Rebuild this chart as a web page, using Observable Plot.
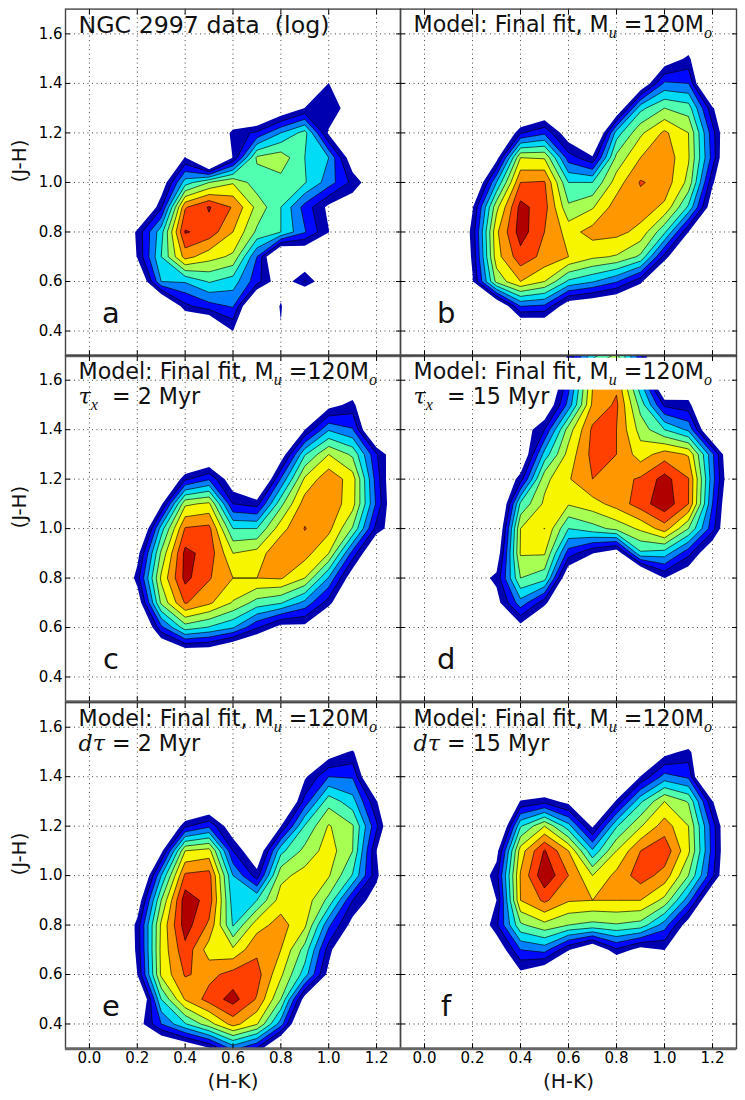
<!DOCTYPE html>
<html>
<head>
<meta charset="utf-8">
<script src="https://cdn.jsdelivr.net/npm/d3@7"></script>
<script src="https://cdn.jsdelivr.net/npm/@observablehq/plot@0.6"></script>
<style>
  html, body { margin: 0; padding: 0; background: white; }
  #chart { position: relative; width: 745px; height: 1100px; overflow: hidden; }
  #chart svg { position: absolute; overflow: visible; background: transparent; }
</style>
</head>
<body>
<div id="chart"></div>
<script>
// Grids of contour level, rows run from J-H = 1.7 down to 0.3, columns from H-K = 0.1 to 1.3
// below 0 is outside the lowest contour
const o = -3

const panelA = [
  [o, o, o, o, o, o, o, o, o, o, o, o, o],
  [o, o, o, o, o, o, o, o, o, o, o, o, o],
  [o, o, o, o, o, o, o, o, o, o, o, o, o],
  [o, o, o, o, o, o, o, o, o, .05, o, o, o],
  [o, o, o, o, o, o, o, -1.3, .05, 1, -1, o, o],
  [o, o, o, o, o, .5, 1.2, 3, 4.4, -.2, o, o, o],
  [o, o, o, .1, -4.3, .1, 5.2, 5.6, 4, 3, -1, o, o],
  [o, o, -1, 3.5, 5, 5.9, 4.4, 4.65, 4.1, 2.5, .7, -1.2, o],
  [o, o, .8, 7.9, 9.1, 7.9, 5.7, 4, 1.6, -.3, -1, o, o],
  [o, .3, 3.6, 9.1, 8.6, 7, 4.8, 4, 2.1, .05, o, o, o],
  [o, .1, 4, 7.4, 6.4, 5.8, 2, o, -1.7, o, o, o, o],
  [o, -2, 3, 3.1, 4.1, 3.5, 1.4, -1, 1.1, -1.5, o, o, o],
  [o, o, o, .7, 1.6, 2.1, o, .2, -4, .05, o, o, o],
  [o, o, o, o, o, 0, o, -.14, o, o, o, o, o],
  [o, o, o, o, o, o, o, o, o, o, o, o, o]
]
const panelB = [
  [o, o, o, o, o, o, o, o, o, o, o, o, o],
  [o, o, o, o, o, o, o, o, o, o, -1.6, o, o],
  [o, o, o, o, o, o, o, o, o, -1, .28, o, o],
  [o, o, o, o, o, o, o, o, -1.4, 2.2, 2, -4, o],
  [o, o, o, o, -1.7, o, o, -1.6, 3.7, 5, 4.5, .2, o],
  [o, o, o, .9, 1.8, -.9, o, 3.5, 5.8, 7.2, 6, 1.4, o],
  [o, o, -.5, 6, 5.9, 1.5, .2, 5.3, 7, 7.7, 6.1, 1.6, -3.7],
  [o, -2.3, 3, 8, 8.1, 4, 4, 6.5, 8.1, 7.6, 5.7, .2, o],
  [o, -.1, 5.7, 9.35, 8.4, 5.2, 5.9, 7.5, 7.5, 6.8, 3.8, -1, o],
  [o, .4, 6.8, 9.5, 8, 6.6, 7.4, 7.3, 6.7, 4.2, 0, o, o],
  [o, .2, 6.6, 8.6, 7.7, 7, 6.2, 5.9, 4.8, .6, o, o, o],
  [o, -.1, 5.3, 7, 6, 3.8, 3.1, 2.1, .3, o, o, o, o],
  [o, o, -2, 2, 1.8, -1, -1.5, -2, o, o, o, o, o],
  [o, o, o, -2.3, -2.1, o, o, o, o, o, o, o, o],
  [o, o, o, o, o, o, o, o, o, o, o, o, o]
]
const panelC = [
  [o, o, o, o, o, o, o, o, o, o, o, o, o],
  [o, o, o, o, o, o, o, o, o, o, -1.6, o, o],
  [o, o, o, o, o, o, o, o, o, -.5, .4, o, o],
  [o, o, o, o, o, o, o, o, 0, 2.9, 2.1, -2.8, o],
  [o, o, o, o, -2, o, o, -.9, 3.9, 6, 4.8, 1.1, -1.7],
  [o, o, o, .8, 1.9, -1, o, 2.1, 6.2, 7.7, 6.5, 1.5, -2.3],
  [o, o, -.3, 5.8, 6.2, 1, .6, 4.7, 7.5, 7.7, 6.4, 1.8, -2.3],
  [o, o, 3.5, 8.1, 8.3, 4, 4, 6.6, 8.05, 7.3, 4.9, .6, -1.2],
  [o, -.5, 5.2, 9.3, 8.6, 6, 6.4, 7.95, 7.4, 6, 1.6, -2.1, o],
  [o, .5, 6.2, 9.3, 8.1, 7, 7, 7.1, 6, 2.9, -1, o, o],
  [o, -1, 5.2, 8.1, 7.2, 5.9, 4.6, 4.1, 2.7, .5, o, o, o],
  [o, o, 1.7, 4.5, 3.9, 3.1, 1.1, -.5, -.4, o, o, o, o],
  [o, o, -2.2, -.9, -1, -2.3, o, o, o, o, o, o, o],
  [o, o, o, o, o, o, o, o, o, o, o, o, o],
  [o, o, o, o, o, o, o, o, o, o, o, o, o]
]
const panelD = [
  [o, o, o, o, o, .2, 3.6, 5.3, 1.3, -4, o, o, o],
  [o, o, o, o, o, 1.5, 6.9, 7.7, 3, o, -1.6, o, o],
  [o, o, o, o, -1.5, 2.4, 7.2, 8.2, 4.6, .8, .4, o, o],
  [o, o, o, -1, 1, 5.5, 8.2, 8, 5.6, 4, 2.8, -2.3, o],
  [o, o, o, -1.6, 3.4, 6.4, 8.3, 8, 6.5, 7.5, 6.9, 2.2, -2.8],
  [o, o, -2, .5, 5.7, 6.9, 8, 7.6, 8.15, 9.4, 8.05, 2.4, -2.4],
  [o, o, -3, 4.2, 6.2, 6.1, 6.6, 7.4, 8.5, 9.7, 8, 2, o],
  [o, o, -2, 6, 7.02, 4, 4.6, 5.3, 6.2, 7.5, 5, 1.4, o],
  [o, o, -1, 6.1, 6.1, 1.5, .05, -1, 3.8, 3.5, 1.3, -1.5, o],
  [o, -.8, .3, 5, 4.4, -1.5, o, o, -3.3, .02, -1.2, o, o],
  [o, o, -.5, 2.6, .4, o, o, o, o, o, o, o, o],
  [o, o, o, -.5, o, o, o, o, o, o, o, o, o],
  [o, o, o, o, o, o, o, o, o, o, o, o, o],
  [o, o, o, o, o, o, o, o, o, o, o, o, o],
  [o, o, o, o, o, o, o, o, o, o, o, o, o]
]
const panelE = [
  [o, o, o, o, o, o, o, o, o, o, o, o, o],
  [o, o, o, o, o, o, o, o, o, o, o, o, o],
  [o, o, o, o, o, o, o, o, o, -.8, .2, o, o],
  [o, o, o, o, o, o, o, o, -.2, 2, 1.9, o, o],
  [o, o, o, o, -2, o, o, o, 1.4, 4.6, 3.4, .1, o],
  [o, o, o, .8, 1.8, -1, o, 0, 4.1, 6.1, 5.1, 1.2, o],
  [o, o, -.4, 6, 6.4, 1, -1.4, 3.7, 5.3, 6.5, 5, 0, o],
  [o, o, 3, 8.2, 8.4, 3, .5, 5.7, 6.4, 6.1, 3.9, .3, o],
  [o, -1, 5, 9.6, 8.6, 3.5, 4, 6.5, 6.6, 4.7, 1, -.75, o],
  [o, .4, 6.2, 9.5, 7.8, 3.9, 6.6, 7.4, 6.2, 2.2, -.5, o, o],
  [o, .3, 6.3, 8.7, 6.5, 6.2, 7.8, 7, 4.6, .5, o, o, o],
  [o, 0, 6.2, 8.1, 7.7, 8.4, 8.4, 6.2, 3.5, -.44, o, o, o],
  [o, -2.7, 4, 7.1, 8.4, 9.4, 7.9, 5, -.6, o, o, o, o],
  [o, -.7, 2, 3.9, 5.6, 7.4, 6.1, 2.5, o, o, o, o, o],
  [o, o, -2.3, -1.5, -.2, 2.3, .8, -2.8, o, o, o, o, o]
]
const panelF = [
  [o, o, o, o, o, o, o, o, o, o, o, o, o],
  [o, o, o, o, o, o, o, o, o, o, o, o, o],
  [o, o, o, o, o, o, o, o, o, -.5, .4, o, o],
  [o, o, o, o, o, o, o, o, .05, 2.4, 1.8, -4.8, o],
  [o, o, o, .1, .6, -.4, o, .2, 3.8, 6, 4.9, .1, o],
  [o, o, o, 3.9, 6, 3.4, -.2, 3.9, 5.9, 7.5, 6, 1.5, o],
  [o, o, -.5, 6.5, 9.1, 7, 3.2, 6, 8, 8.7, 6.2, 1.6, o],
  [o, -1.5, .6, 7.1, 9.8, 8, 6, 7.3, 8.5, 7.6, 5, 1.2, o],
  [o, o, 0, 7, 8.2, 7.1, 7, 7, 7, 5.7, 2.4, -2, o],
  [o, -2, .8, 4.8, 5.7, 5, 4.7, 4.9, 4.6, 2.5, -.8, o, o],
  [o, o, -1.25, 2, 2.4, .1, -1.5, .8, -.5, .05, o, o, o],
  [o, o, o, -.4, -1.5, o, o, o, o, o, o, o, o],
  [o, o, o, o, o, o, o, o, o, o, o, o, o],
  [o, o, o, o, o, o, o, o, o, o, o, o, o],
  [o, o, o, o, o, o, o, o, o, o, o, o, o]
]

const panels = [panelA, panelB, panelC, panelD, panelE, panelF]
const letters = ['a', 'b', 'c', 'd', 'e', 'f']
const model = 'Model: Final fit, M_u =120M_o'
const titles = ['NGC 2997 data\u00a0 (log)', model, model, model, model, model]
const titleSizes = [23.7, 22.2, 22.2, 22.2, 22.2, 22.2]
const subtitles = ['', '', '~t_x\u00a0 = 2 Myr', '~t_x\u00a0 = 15 Myr', '~d~t = 2 Myr', '~d~t = 15 Myr']

const levels = [0, 1, 2, 3, 4, 5, 6, 7, 8, 9]
const colors = ['#0000b0', '#0008ff', '#0080ff', '#00dcf5', '#50ffb0', '#a6ff52', '#f8f500', '#ff9800', '#ff4000', '#b00000']
const xTicks = [0, .2, .4, .6, .8, 1, 1.2]
const yTicks = [.4, .6, .8, 1, 1.2, 1.4, 1.6]

// white box behind the first title line of panel d
const boxX = [-.05, 1.22]
const boxY = [1.56, 1.689]

const font = 'DejaVu Sans'
const greek = {t: 'τ', d: 'd'}

// _u is a subscript and ~t a math letter in the titles
function mathText(svg) {
	d3.select(svg).selectAll('.title text').each(function() {
		const el = d3.select(this)
		const parts = el.text().split(/(_\w|~\w)/).filter(d => d !== '')
		el.text(null)
		let dy = 0
		parts.forEach(p => {
			const span = el.append('tspan')
			if (p[0] === '_') {
				span.text(p[1]).attr('dy', 6).attr('font-size', '0.72em')
					.attr('font-style', 'italic').attr('font-family', 'Liberation Serif')
				dy = -6
			} else {
				if (p[0] === '~') {
					span.text(greek[p[1]]).attr('font-style', 'italic').attr('font-family', 'DejaVu Serif')
				} else {
					span.text(p)
				}
				if (dy) span.attr('dy', dy)
				dy = 0
			}
		})
	})
}

function drawPanel(i) {
	const col = i % 2
	const row = Math.floor(i / 2)
	const left = col === 0 ? 0 : 400
	const width = col === 0 ? 400 : 345
	const marginLeft = col === 0 ? 65 : 0
	const marginRight = col === 0 ? 0 : 9
	const top = [0, 355.3, 701.5][row]
	const marginTop = row === 0 ? 8.6 : 0
	const marginBottom = row === 2 ? 52.3 : 0
	const height = [355.3, 346.2, 398.5][row]
	const values = panels[i].flat()
	const grid = {width: 13, height: 15, x1: .05, x2: 1.35, y1: 1.75, y2: .25, value: Plot.identity, clip: true}

	const marks = [
		Plot.gridX(xTicks, {stroke: '#000', strokeOpacity: .75, strokeDasharray: '1,3.5'}),
		Plot.gridY(yTicks, {stroke: '#000', strokeOpacity: .75, strokeDasharray: '1,3.5'}),
		Plot.contour(values, {...grid, fill: 'value', thresholds: levels}),
		Plot.contour(values, {...grid, stroke: '#000', fill: 'none', strokeWidth: .8, strokeOpacity: .8, thresholds: levels.slice(1)}),
	]
	if (i === 3) {
		marks.push(Plot.rect([0], {x1: [boxX[0]], x2: [boxX[1]], y1: [boxY[0]], y2: [boxY[1]], fill: 'white'}))
	}
	marks.push(
		Plot.frame({stroke: '#444', strokeWidth: 1.4}),
		Plot.ruleY([.3], {stroke: '#666', strokeWidth: 3}),
		Plot.axisX(xTicks, {anchor: 'top', tickSize: -5, tickFormat: () => '', label: null}),
		Plot.axisX(xTicks, {anchor: 'bottom', tickSize: -5, tickPadding: 9, fontSize: 15, tickFormat: row === 2 ? '.1f' : () => '', label: null}),
		Plot.axisY(yTicks, {anchor: 'right', tickSize: -5, tickFormat: () => '', label: null}),
		Plot.axisY(yTicks, {anchor: 'left', tickSize: -5, tickPadding: 8, fontSize: 15, tickFormat: col === 0 ? '.1f' : () => '', label: null}),
		Plot.text([titles[i]], {frameAnchor: 'top-left', dx: 13, dy: 16, text: d => d, textAnchor: 'start', lineAnchor: 'middle', fontSize: titleSizes[i], fill: '#111', className: 'title'}),
		Plot.text([letters[i]], {x: [.09], y: [.47], text: d => d, fontSize: 29, fill: '#111'})
	)
	if (subtitles[i]) {
		marks.push(Plot.text([subtitles[i]], {frameAnchor: 'top-left', dx: 13, dy: 41, text: d => d, textAnchor: 'start', lineAnchor: 'middle', fontSize: 22.2, fill: '#111', className: 'title'}))
	}
	if (row === 2) {
		marks.push(Plot.text(['(H-K)'], {frameAnchor: 'bottom', dy: 33, lineAnchor: 'middle', text: d => d, fontSize: 20, fill: '#111'}))
	}
	if (col === 0) {
		marks.push(Plot.text(['(J-H)'], {frameAnchor: 'left', dx: -46, rotate: -90, text: d => d, fontSize: 20, fill: '#111'}))
	}

	const chart = Plot.plot({
		width, height, marginLeft, marginRight, marginTop, marginBottom,
		style: {fontFamily: font, background: 'transparent', overflow: 'visible'},
		x: {domain: [-.1, 1.3], axis: null},
		y: {domain: [.3, 1.7], axis: null},
		color: {type: 'threshold', domain: levels.slice(1), range: colors},
		marks,
	})
	mathText(chart)
	d3.select(chart).style('left', left + 'px').style('top', top + 'px')
	d3.select('#chart').append(() => chart)
}

panels.forEach((d, i) => drawPanel(i))
</script>
</body>
</html>
